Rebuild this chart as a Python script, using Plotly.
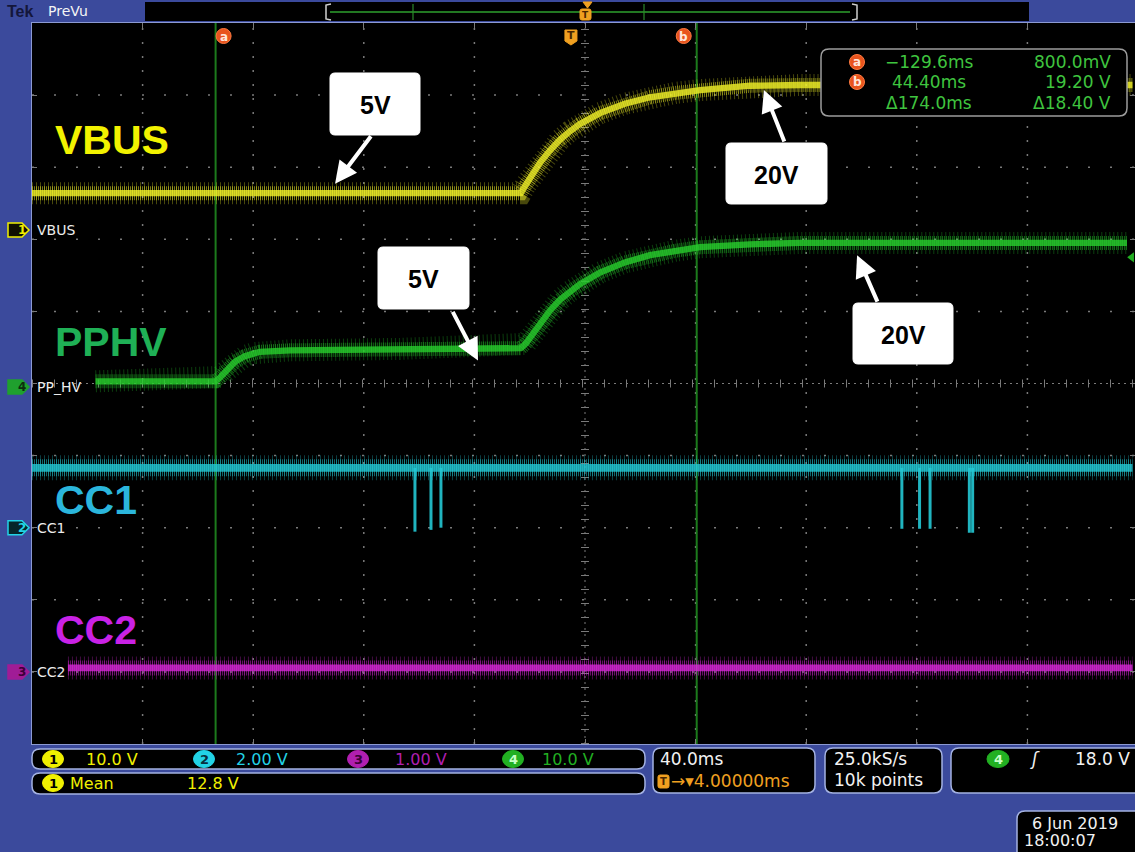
import plotly.graph_objects as go

# ======================= DATA =======================
TIME_PER_DIV_MS = 40.0
CENTER_TIME_MS = 4.0          # horizontal position: trigger -> 4.00000 ms
TRIGGER_TIME_MS = 0.0

CH_NUMBER = [1, 2, 3, 4]
CH_LABEL = ["VBUS", "CC1", "CC2", "PP_HV"]
CH_BIG_LABEL = ["VBUS", "CC1", "CC2", "PPHV"]
CH_VOLTS_PER_DIV = [10.0, 2.0, 1.0, 10.0]
CH_OFFSET_DIV = [2.13, -2.0, -4.0, -0.05]   # ground marker position, divisions from centre

# Channel 1 : VBUS (V vs ms)
VBUS_T_MS = [-196, -19.2, -17.5, -15.9, -12.3, -8.7, -5.1, -1.4, 2.2, 9.4, 18.4, 27.5, 36.5, 45.6, 63.7, 81.7, 140, 202]
VBUS_V = [5.1, 5.1, 6.2, 7.2, 9.3, 11.0, 12.5, 13.7, 14.7, 16.2, 17.5, 18.4, 19.0, 19.4, 20.0, 20.1, 20.1, 20.1]

# Channel 4 : PP_HV
PPHV_T_MS = [-173, -129.6, -127.8, -126.2, -122.6, -119.0, -116.0, -113.6, -102.7, -62.9, -34.0, -19.2,
             -17.5, -15.9, -12.3, -8.7, -5.1, -1.4, 2.2, 9.4, 18.4, 27.5, 36.5, 45.6, 63.7, 81.7, 140, 200]
PPHV_V = [0.8, 0.8, 1.4, 2.1, 3.5, 4.3, 4.7, 4.9, 5.1, 5.3, 5.4, 5.4,
          6.0, 6.8, 8.9, 10.6, 12.1, 13.3, 14.3, 15.9, 17.3, 18.3, 18.9, 19.4, 19.8, 20.0, 20.0, 20.0]

# Channel 2 : CC1 (idle level + PD message bursts)
CC1_T_MS = [-196, 202]
CC1_V = [1.66, 1.66]
CC1_BURST_T_MS = [-57.5, -51.7, -48.1, 118.6, 125.0, 128.8, 143.0, 144.2]
CC1_BURST_MIN_V = [-0.11, -0.06, 0.0, -0.03, -0.03, -0.03, -0.14, -0.14]

# Channel 3 : CC2
CC2_T_MS = [-183, 202]
CC2_V = [0.055, 0.055]

# Cursors (a, b) and readouts
CURSOR_NAME = ["a", "b"]
CURSOR_T_MS = [-129.6, 44.40]
CURSOR_V = [0.800, 19.20]

# Callouts
CALLOUT_TEXT = ["5V", "20V", "5V", "20V"]
CALLOUT_CH = [1, 1, 4, 4]
CALLOUT_T_MS = [-86.4, 68.7, -34.7, 102.4]
CALLOUT_V = [6.4, 19.4, 3.7, 18.3]

# Status readouts
MEAN_CH = 1
MEAN_V = 12.8
SAMPLE_RATE = "25.0kS/s"
RECORD_LEN = "10k points"
TRIG_POS_MS = 4.0
TRIG_CH = 4
TRIG_LEVEL_V = 18.0
DATE_STR = "6 Jun 2019"
TIME_STR = "18:00:07"

# ======================= LAYOUT CONSTANTS =======================
FIG_W, FIG_H = 1135, 852
M_L, M_R, M_T, M_B = 32, 0, 23, 108
PLOT_W = FIG_W - M_L - M_R
PLOT_H = FIG_H - M_T - M_B
DIV_PX_X = 110.6
N_DIV = 10
X0 = CENTER_TIME_MS - N_DIV / 2 * TIME_PER_DIV_MS
X1 = X0 + PLOT_W / DIV_PX_X * TIME_PER_DIV_MS

BG_BLUE = "#3b4a9c"
UI_FONT = "DejaVu Sans"
BIG_FONT = "Liberation Sans"
GRID = "#7a7a7a"
TICK = "#7a7a7a"

TRACE_RGB = {1: (240, 240, 40), 2: (35, 200, 212), 3: (214, 40, 214), 4: (40, 205, 45)}
LABEL_COLOR = {1: "#f2f200", 2: "#2bb6dc", 3: "#c922e6", 4: "#1fb056"}
CH_UI_COLOR = {1: "#f0f000", 2: "#22d3e6", 3: "#b01fb0", 4: "#22b022"}
ORANGE = "#e8541e"
TRIG_ORANGE = "#f0a020"
READ_GREEN = "#3fc43f"


def PX(x):
    return (x - M_L) / PLOT_W


def PY(y):
    return (FIG_H - M_B - y) / PLOT_H


def yid(ch):
    return "y%d" % (ch + 1)


def rrect(x0, y0, x1, y1, r):
    p = [
        "M %f,%f" % (PX(x0 + r), PY(y0)),
        "L %f,%f" % (PX(x1 - r), PY(y0)),
        "Q %f,%f %f,%f" % (PX(x1), PY(y0), PX(x1), PY(y0 + r)),
        "L %f,%f" % (PX(x1), PY(y1 - r)),
        "Q %f,%f %f,%f" % (PX(x1), PY(y1), PX(x1 - r), PY(y1)),
        "L %f,%f" % (PX(x0 + r), PY(y1)),
        "Q %f,%f %f,%f" % (PX(x0), PY(y1), PX(x0), PY(y1 - r)),
        "L %f,%f" % (PX(x0), PY(y0 + r)),
        "Q %f,%f %f,%f" % (PX(x0), PY(y0), PX(x0 + r), PY(y0)),
        "Z",
    ]
    return " ".join(p)


def fmt_sig(v, sig):
    a = abs(v)
    ip = len(str(int(a))) if a >= 1 else 1
    dec = max(0, sig - ip)
    return "%.*f" % (dec, a)


def fmt_ms(v):
    return ("\u2212" if v < 0 else "") + fmt_sig(v, 4) + "ms"


def fmt_v4(v):
    if abs(v) < 1:
        return ("\u2212" if v < 0 else "") + "%.1fmV" % (abs(v) * 1000)
    return ("\u2212" if v < 0 else "") + fmt_sig(v, 4) + " V"


shapes = []
ann = []


def text(x, y, s, color, size, anchor="left", family=UI_FONT, yanchor="middle"):
    ann.append(dict(x=PX(x), y=PY(y), xref="paper", yref="paper", text=s, showarrow=False,
                    xanchor=anchor, yanchor=yanchor, font=dict(color=color, size=size, family=family)))


def rbox(x0, y0, x1, y1, r=8, fill="black", line="#a4b2e2", lw=1.5, layer="above"):
    shapes.append(dict(type="path", path=rrect(x0, y0, x1, y1, r), xref="paper", yref="paper",
                       fillcolor=fill, line=dict(color=line, width=lw), layer=layer))


def ellipse(cx, cy, rx, ry, fill, line=None):
    shapes.append(dict(type="circle", xref="paper", yref="paper", x0=PX(cx - rx), x1=PX(cx + rx),
                       y0=PY(cy + ry), y1=PY(cy - ry), fillcolor=fill,
                       line=dict(color=line or fill, width=1)))


fig = go.Figure()

# ======================= TRACES =======================
def add_channel(t, v, ch, band):
    r, g, b = TRACE_RGB[ch]
    layers = [
        (band + 8, 0.30, "1px,3px"),     # sparse noise whiskers
        (band, 0.50, "1px,1px"),         # dense noise band
        (band * 0.45, 0.80, "solid"),    # bright core
    ]
    for w, a, dash in layers:
        fig.add_trace(go.Scatter(x=t, y=v, mode="lines", yaxis=yid(ch),
                                 line=dict(color="rgba(%d,%d,%d,%.2f)" % (r, g, b, a), width=w, dash=dash),
                                 hoverinfo="skip", showlegend=False))


add_channel(CC2_T_MS, CC2_V, 3, 15)
add_channel(CC1_T_MS, CC1_V, 2, 17)
bx, by = [], []
for t, vmin in zip(CC1_BURST_T_MS, CC1_BURST_MIN_V):
    bx += [t, t, None]
    by += [CC1_V[0], vmin, None]
r, g, b = TRACE_RGB[2]
fig.add_trace(go.Scatter(x=bx, y=by, mode="lines", yaxis=yid(2),
                         line=dict(color="rgba(%d,%d,%d,0.9)" % (r, g, b), width=3),
                         hoverinfo="skip", showlegend=False))
add_channel(PPHV_T_MS, PPHV_V, 4, 14)
add_channel(VBUS_T_MS, VBUS_V, 1, 14)

fig.add_trace(go.Scatter(x=[X1 - 1.2], y=[TRIG_LEVEL_V], yaxis=yid(TRIG_CH), mode="markers",
                         marker=dict(symbol="triangle-left", size=9, color="#22b022"),
                         hoverinfo="skip", showlegend=False))
fig.add_trace(go.Scatter(x=[CENTER_TIME_MS], y=[0], mode="markers", marker=dict(opacity=0),
                         hoverinfo="skip", showlegend=False))

# ======================= GRATICULE =======================
for k in range(1, N_DIV):
    xv = X0 + k * TIME_PER_DIV_MS
    if abs(xv - CENTER_TIME_MS) > 1e-6:
        shapes.append(dict(type="line", xref="x", yref="paper", x0=xv, x1=xv, y0=0, y1=1,
                           line=dict(color=GRID, width=1.5, dash="2px,12px"), layer="below"))
    yv = -N_DIV / 2 + k
    if yv != 0:
        shapes.append(dict(type="line", xref="paper", yref="y", x0=0, x1=1, y0=yv, y1=yv,
                           line=dict(color=GRID, width=1.5, dash="2px,20px"), layer="below"))
shapes.append(dict(type="line", xref="paper", yref="y", x0=0, x1=1, y0=0, y1=0,
                   line=dict(color=GRID, width=1, dash="2px,4px"), layer="below"))
shapes.append(dict(type="line", xref="paper", yref="y", x0=0, x1=1, y0=0, y1=0,
                   line=dict(color=TICK, width=8, dash="1px,21px"), layer="below"))
shapes.append(dict(type="line", xref="x", yref="paper", x0=CENTER_TIME_MS, x1=CENTER_TIME_MS, y0=0, y1=1,
                   line=dict(color=GRID, width=1, dash="2px,4px"), layer="below"))
shapes.append(dict(type="line", xref="x", yref="paper", x0=CENTER_TIME_MS, x1=CENTER_TIME_MS, y0=0, y1=1,
                   line=dict(color=TICK, width=8, dash="1px,13px"), layer="below"))

# cursors
for i, t in enumerate(CURSOR_T_MS):
    shapes.append(dict(type="line", xref="x", yref="paper", x0=t, x1=t, y0=0, y1=1,
                       line=dict(color="#1c7a1c", width=2), layer="below"))
cursor_lbl_off = [8, -13]
for i, t in enumerate(CURSOR_T_MS):
    off = cursor_lbl_off[i]
    shapes.append(dict(type="circle", xref="x", xsizemode="pixel", xanchor=t, x0=off - 7.5, x1=off + 7.5,
                       yref="paper", ysizemode="pixel", yanchor=PY(36), y0=-7.5, y1=7.5,
                       fillcolor=ORANGE, line=dict(color="#ff7a40", width=1)))
    ann.append(dict(x=t, xref="x", xshift=off, y=PY(37), yref="paper", text="<b>%s</b>" % CURSOR_NAME[i],
                    showarrow=False, yanchor="middle", font=dict(color="#ffe6dc", size=12, family=UI_FONT)))
shapes.append(dict(type="path", xref="x", xsizemode="pixel", xanchor=TRIGGER_TIME_MS,
                   yref="paper", ysizemode="pixel", yanchor=PY(37),
                   path="M -9,7 L 3,7 L 3,-4 L -3,-8 L -9,-4 Z",
                   fillcolor=TRIG_ORANGE, line=dict(color=TRIG_ORANGE, width=1)))
ann.append(dict(x=TRIGGER_TIME_MS, xref="x", xshift=-3, y=PY(36), yref="paper", text="<b>T</b>",
                showarrow=False, yanchor="middle", font=dict(color="#4a2600", size=11, family=UI_FONT)))

# ======================= CHANNEL LABELS =======================
big_y = {1: 140, 4: 342, 2: 500, 3: 630}
for ch, lbl, big in zip(CH_NUMBER, CH_LABEL, CH_BIG_LABEL):
    text(53, big_y[ch], "<b>%s</b>" % big, LABEL_COLOR[ch], 41, family=BIG_FONT)
    fill = {1: "#101000", 2: "#06262a", 3: "#a01c96", 4: "#1fa02e"}[ch]
    line = CH_UI_COLOR[ch] if ch in (1, 2) else fill
    numc = {1: "#f0f000", 2: "#22d3e6", 3: "#3a0038", 4: "#0c2e0c"}[ch]
    shapes.append(dict(type="path", xref="paper", xsizemode="pixel", xanchor=PX(0),
                       yref=yid(ch), ysizemode="pixel", yanchor=0,
                       path="M 8,7 L 22,7 L 29,0 L 22,-7 L 8,-7 Z",
                       fillcolor=fill, line=dict(color=line, width=1.5)))
    ann.append(dict(x=PX(16), xref="paper", y=0, yref=yid(ch), text="<b>%d</b>" % ch, showarrow=False,
                    font=dict(color=numc, size=12, family=UI_FONT)))
    ann.append(dict(x=PX(35), xref="paper", y=0, yref=yid(ch), text=lbl, showarrow=False, xanchor="left",
                    font=dict(color="#ececec", size=14, family=UI_FONT)))

# ======================= CALLOUTS =======================
callout_box = [(330, 73, 420, 135), (726, 143, 827, 204), (378, 247, 469, 309), (853, 303, 953, 364)]
callout_tail = [(37, -49), (21, 53), (-26, -50), (21, 48)]
for i, s in enumerate(CALLOUT_TEXT):
    x0, y0, x1, y1 = callout_box[i]
    rbox(x0, y0, x1, y1, r=5, fill="white", line="white", lw=1)
    text((x0 + x1) / 2, (y0 + y1) / 2 + 1, "<b>%s</b>" % s, "black", 25, anchor="center", family=BIG_FONT)
    ax, ay = callout_tail[i]
    ann.append(dict(x=CALLOUT_T_MS[i], y=CALLOUT_V[i], xref="x", yref=yid(CALLOUT_CH[i]), text="",
                    showarrow=True, ax=ax, ay=ay, arrowhead=2, arrowsize=1.1, arrowwidth=4,
                    arrowcolor="white"))

# ======================= CURSOR READOUT =======================
rbox(821, 49, 1127, 116, r=8, fill="black", line="#9c9c9c", lw=1.5)
rows_y = [62, 82, 103]
for i, nm in enumerate(CURSOR_NAME):
    ellipse(857, rows_y[i], 7.5, 7.5, ORANGE, "#ff7a40")
    text(857, rows_y[i] + 0.5, "<b>%s</b>" % nm, "#ffe6dc", 12, anchor="center")
    text(929, rows_y[i], fmt_ms(CURSOR_T_MS[i]), READ_GREEN, 17, anchor="center")
    text(1113, rows_y[i], fmt_v4(CURSOR_V[i]), READ_GREEN, 17, anchor="right")
text(929, rows_y[2], "\u0394" + fmt_ms(CURSOR_T_MS[1] - CURSOR_T_MS[0]), READ_GREEN, 17, anchor="center")
text(1113, rows_y[2], "\u0394" + fmt_v4(CURSOR_V[1] - CURSOR_V[0]), READ_GREEN, 17, anchor="right")

# ======================= TOP BAR =======================
shapes.append(dict(type="rect", xref="paper", yref="paper", x0=PX(145), x1=PX(1029), y0=PY(21), y1=PY(2),
                   fillcolor="black", line=dict(width=0)))
shapes.append(dict(type="path", xref="paper", yref="paper",
                   path="M %f,%f L %f,%f L %f,%f L %f,%f" % (PX(331), PY(4), PX(326), PY(5), PX(326), PY(19), PX(331), PY(20)),
                   line=dict(color="#cfcfcf", width=1.5)))
shapes.append(dict(type="path", xref="paper", yref="paper",
                   path="M %f,%f L %f,%f L %f,%f L %f,%f" % (PX(852), PY(4), PX(857), PY(5), PX(857), PY(19), PX(852), PY(20)),
                   line=dict(color="#cfcfcf", width=1.5)))
shapes.append(dict(type="line", xref="paper", yref="paper", x0=PX(330), x1=PX(850), y0=PY(12), y1=PY(12),
                   line=dict(color="#2ea02e", width=1.5)))
for gx in (413, 644):
    shapes.append(dict(type="line", xref="paper", yref="paper", x0=PX(gx), x1=PX(gx), y0=PY(4), y1=PY(20),
                       line=dict(color="#2a8a2a", width=1.2)))
shapes.append(dict(type="path", xref="paper", yref="paper",
                   path="M %f,%f L %f,%f L %f,%f Z" % (PX(583), PY(2), PX(592), PY(2), PX(587.5), PY(8)),
                   fillcolor=TRIG_ORANGE, line=dict(color=TRIG_ORANGE, width=1)))
shapes.append(dict(type="path", xref="paper", yref="paper", path=rrect(580, 9, 591, 20, 2),
                   fillcolor=TRIG_ORANGE, line=dict(color=TRIG_ORANGE, width=1)))
text(585.5, 15, "<b>T</b>", "#4a2600", 9, anchor="center")
text(5, 11, "<b>Tek</b>", "#14163a", 16, family=BIG_FONT)
text(46, 11, "PreVu", "#f4f4f4", 14)

# ======================= STATUS BAR =======================
rbox(32, 749, 645, 769)
rbox(32, 773, 645, 794)
rbox(653, 748, 815, 793)
rbox(825, 748, 942, 793)
rbox(951, 748, 1150, 793)
rbox(1017, 811, 1150, 870)


def scale_str(s):
    return fmt_sig(s, 3) + " V"


num_circ_x = {1: 53, 2: 204, 3: 358, 4: 513}
txt_x = {1: 84, 2: 234, 3: 393, 4: 540}
num_txt = {1: "#000000", 2: "#083040", 3: "#3a0038", 4: "#c8ffc8"}
for ch, s in zip(CH_NUMBER, CH_VOLTS_PER_DIV):
    ellipse(num_circ_x[ch], 759, 10.5, 8.5, CH_UI_COLOR[ch])
    text(num_circ_x[ch], 759.5, "<b>%d</b>" % ch, num_txt[ch], 13, anchor="center")
    text(txt_x[ch], 759, scale_str(s), CH_UI_COLOR[ch], 16)
ellipse(53, 783, 10.5, 8.5, CH_UI_COLOR[MEAN_CH])
text(53, 783.5, "<b>%d</b>" % MEAN_CH, "#000000", 13, anchor="center")
text(68, 783, "Mean", CH_UI_COLOR[MEAN_CH], 16)
text(185, 783, fmt_sig(MEAN_V, 3) + " V", CH_UI_COLOR[MEAN_CH], 16)

text(658, 759, fmt_sig(TIME_PER_DIV_MS, 3) + "ms", "#f2f2f2", 17)
shapes.append(dict(type="path", xref="paper", yref="paper", path=rrect(658, 775, 669, 788, 2),
                   fillcolor=TRIG_ORANGE, line=dict(color=TRIG_ORANGE, width=1)))
text(663.5, 781.5, "<b>T</b>", "#4a2600", 10, anchor="center")
text(669, 781, "\u2192\u25be" + "%.5fms" % TRIG_POS_MS, TRIG_ORANGE, 17)

text(832, 759, SAMPLE_RATE, "#f2f2f2", 17)
text(832, 780, RECORD_LEN, "#f2f2f2", 17)

ellipse(998, 759, 11, 8.5, CH_UI_COLOR[TRIG_CH])
text(998, 759.5, "<b>%d</b>" % TRIG_CH, "#c8ffc8", 13, anchor="center")
text(1035, 759, "<i>\u0283</i>", "#f2f2f2", 17, anchor="center")
text(1132, 759, fmt_sig(TRIG_LEVEL_V, 3) + " V", "#f2f2f2", 17, anchor="right")

text(1030, 823, DATE_STR, "#f2f2f2", 16)
text(1022, 840, TIME_STR, "#f2f2f2", 16)

# ======================= AXES =======================
layout_axes = dict(
    xaxis=dict(range=[X0, X1], domain=[0, 1], showgrid=False,
               dtick=TIME_PER_DIV_MS, tick0=CENTER_TIME_MS, zeroline=False, showticklabels=False,
               ticks="inside", ticklen=5, tickcolor=TICK,
               showline=True, linecolor="#8c9ad2", linewidth=1, mirror="ticks", fixedrange=True),
    yaxis=dict(range=[-N_DIV / 2, N_DIV / 2], domain=[0, 1], showgrid=False,
               dtick=1, tick0=0, zeroline=False, showticklabels=False, ticks="inside", ticklen=5,
               tickcolor=TICK, showline=True, linecolor="#8c9ad2", linewidth=1, mirror="ticks",
               fixedrange=True),
)
for ch, s, off in zip(CH_NUMBER, CH_VOLTS_PER_DIV, CH_OFFSET_DIV):
    layout_axes["yaxis%d" % (ch + 1)] = dict(overlaying="y",
                                            range=[(-N_DIV / 2 - off) * s, (N_DIV / 2 - off) * s],
                                            visible=False, fixedrange=True)

fig.update_layout(
    width=FIG_W, height=FIG_H, autosize=False,
    margin=dict(l=M_L, r=M_R, t=M_T, b=M_B, pad=0),
    paper_bgcolor=BG_BLUE, plot_bgcolor="black",
    font=dict(family=UI_FONT, color="white"),
    showlegend=False,
    shapes=shapes, annotations=ann,
    **layout_axes,
)

fig.write_html("out.html", config=dict(displayModeBar=False),
               post_script="document.body.style.margin='0px';document.body.style.overflow='hidden';")
